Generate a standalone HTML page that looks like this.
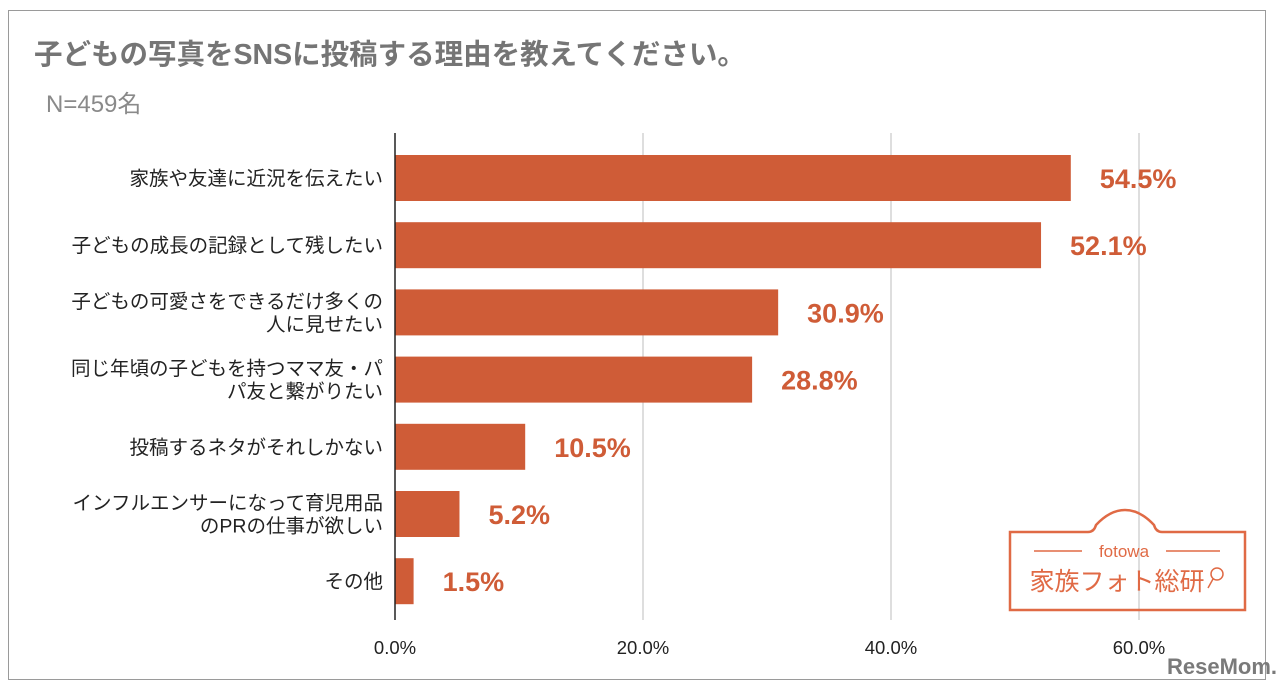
<!DOCTYPE html>
<html><head><meta charset="utf-8"><style>
body{margin:0;width:1280px;height:689px;background:#fff;overflow:hidden;font-family:"Liberation Sans","Noto Sans CJK JP",sans-serif}
#frame{position:absolute;left:8px;top:10px;width:1258px;height:670px;border:1.5px solid #9a9a9a;box-sizing:border-box}
</style></head><body>
<div id="frame"></div>
<svg id="chart" width="1280" height="689" style="position:absolute;left:0;top:0">
<text x="34" y="64" font-size="28.5" font-weight="bold" fill="#757575" font-family="Liberation Sans,Noto Sans CJK JP,sans-serif">子どもの写真をSNSに投稿する理由を教えてください。</text>
<text x="46" y="112" font-size="24" fill="#8a8a8a" font-family="Liberation Sans,Noto Sans CJK JP,sans-serif">N=459名</text>
<g id="grid"></g><g id="bars"></g>
<g fill="none" stroke="#e06a45" stroke-width="2.5">
<path d="M1010 532 L1088 532 Q1094 532 1096 525 Q1110 510 1125 510 Q1140 510 1154 525 Q1156 532 1162 532 L1245 532 L1245 610 L1010 610 Z"/>
<line x1="1034" y1="551" x2="1082" y2="551" stroke-width="1.5"/><line x1="1166" y1="551" x2="1220" y2="551" stroke-width="1.5"/>
<circle cx="1217" cy="574" r="6" stroke-width="1.5"/><line x1="1213" y1="579" x2="1208" y2="588" stroke-width="1.5"/>
</g>
<text x="1124" y="557" font-size="17" fill="#e06a45" text-anchor="middle">fotowa</text>
<text x="1117" y="590" font-size="25" fill="#e06a45" text-anchor="middle" font-family="Liberation Sans,Noto Sans CJK JP,sans-serif">家族フォト総研</text>
<text x="1222" y="674" font-size="22" font-weight="bold" fill="#7a7a7a" text-anchor="middle">ReseMom.</text>
</svg>
<script>
const categories=[["家族や友達に近況を伝えたい"],["子どもの成長の記録として残したい"],["子どもの可愛さをできるだけ多くの","人に見せたい"],["同じ年頃の子どもを持つママ友・パ","パ友と繋がりたい"],["投稿するネタがそれしかない"],["インフルエンサーになって育児用品","のPRの仕事が欲しい"],["その他"]];
const values=[54.5,52.1,30.9,28.8,10.5,5.2,1.5];
const ticks=[0,20,40,60];
const tickLabels=["0.0%","20.0%","40.0%","60.0%"];
const NS="http://www.w3.org/2000/svg";
const x=v=>395+v*12.4;
const y=i=>178+i*67.2;
function mk(t,a,p){const e=document.createElementNS(NS,t);for(const k in a)e.setAttribute(k,a[k]);p.appendChild(e);return e;}
const grid=document.getElementById('grid'),bars=document.getElementById('bars');
ticks.forEach((t,i)=>{
 if(t>0){const l=mk('line',{x1:x(t),x2:x(t),y1:133,y2:620,stroke:'#c8c8c8','stroke-width':1.2},grid);
 
 }
 const tx=mk('text',{x:x(t),y:654,'font-size':18.5,'text-anchor':'middle',fill:'#222'},grid);tx.textContent=tickLabels[i];
 
 
});
values.forEach((v,i)=>{
 const r=mk('rect',{x:x(0),y:y(i)-23,width:x(v)-x(0),height:46,fill:'#cf5c37'},bars);
 
 
 const lb=mk('text',{x:x(v)+29,y:y(i)+10,'font-size':27,'font-weight':'bold',fill:'#cf5c37'},bars);lb.textContent=v.toFixed(1)+'%';
 
 
 const lines=categories[i];
 lines.forEach((s,j)=>{const c=mk('text',{x:383,y:y(i)+7+(j-(lines.length-1)/2)*23,'font-size':19.5,'text-anchor':'end',fill:'#222','font-family':'Liberation Sans,Noto Sans CJK JP,sans-serif'},bars);c.textContent=s;
 
 });
});
const ax=mk('line',{x1:395,x2:395,y1:133,y2:620,stroke:'#222','stroke-width':1.5},bars);


</script>
</body></html>
